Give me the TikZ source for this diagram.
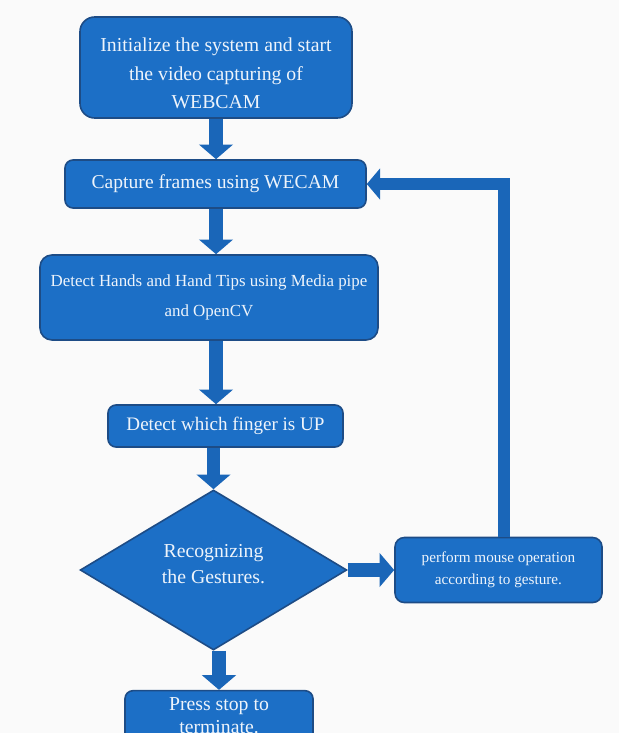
\documentclass[tikz,border=0pt]{standalone}
\usepackage{fontspec}
\setmainfont{Liberation Serif}
\usetikzlibrary{arrows.meta,shapes.geometric}
\definecolor{boxblue}{HTML}{1C6FC6}
\definecolor{edgeblue}{HTML}{1D4C86}
\definecolor{arrowblue}{HTML}{1A66B8}
\definecolor{txt}{HTML}{EEF4FB}
\definecolor{bg}{HTML}{FAFAFA}
\tikzset{
  box/.style={draw=edgeblue, line width=1.2pt, fill=boxblue, text=txt, align=center, inner sep=2pt},
  flow/.style={draw=arrowblue, line width=10pt, line join=miter,
    -{Triangle[width=25pt,length=11pt]}},
  loopflow/.style={draw=arrowblue, line width=9.5pt, line join=miter,
    -{Triangle[width=23pt,length=10pt]}},
}
\begin{document}
\begin{tikzpicture}[x=0.75pt,y=-0.75pt]
\useasboundingbox (0,0) rectangle (619,733);
\clip (0,0) rectangle (619,733);
\fill[bg] (0,0) rectangle (619,733);

\node[box, rounded corners=11pt, minimum width=204pt, minimum height=75.75pt,
  font={\fontsize{14.8}{22}\selectfont}] (b1) at (216,67.5)
  {\rule{0pt}{19pt}Initialize the system and start\\the video capturing of\\[-1pt]WEBCAM};
\node[box, rounded corners=6pt, minimum width=225.75pt, minimum height=36pt,
  font={\fontsize{14.7}{17}\selectfont}] (b2) at (215.5,184)
  {Capture frames using WECAM};
\node[box, rounded corners=9pt, minimum width=253.5pt, minimum height=63.75pt,
  font={\fontsize{12.7}{22.5}\selectfont}] (b3) at (209,297.5)
  {Detect Hands and Hand Tips using Media pipe\\and OpenCV};
\node[box, rounded corners=6pt, minimum width=176.25pt, minimum height=31.5pt,
  font={\fontsize{14.3}{17}\selectfont}] (b4) at (225.5,426)
  {Detect which finger is UP};
\node[box, diamond, minimum width=200pt, minimum height=120pt, inner sep=0pt,
  font={\fontsize{14.8}{20}\selectfont}] (d) at (213.5,570)
  {Recognizing\\the Gestures.\rule[-9pt]{0pt}{9pt}};
\node[box, rounded corners=7pt, minimum width=155.25pt, minimum height=48.75pt,
  font={\fontsize{11.4}{16.5}\selectfont}] (b5) at (498.5,570)
  {perform mouse operation\\according to gesture.};
\node[box, rounded corners=6pt, minimum width=141pt, minimum height=38pt,
  font={\fontsize{14.8}{17}\selectfont}] (b6) at (219,716)
  {Press stop to\\terminate.};

\draw[flow] (b1.south -| b1.south) -- (b2.north -| b1.south);
\draw[flow] (b2.south -| b1.south) -- (b3.north -| b1.south);
\draw[flow] (b3.south -| b1.south) -- (b4.north -| b1.south);
\draw[flow] (b4.south -| d.north) -- (d.north);
\draw[flow] (d.east) -- (b5.west);
\draw[flow] (d.south -| b6.north) -- (b6.north);
\draw[loopflow] ([xshift=4pt]b5.north) |- (b2.east);
\end{tikzpicture}
\end{document}
